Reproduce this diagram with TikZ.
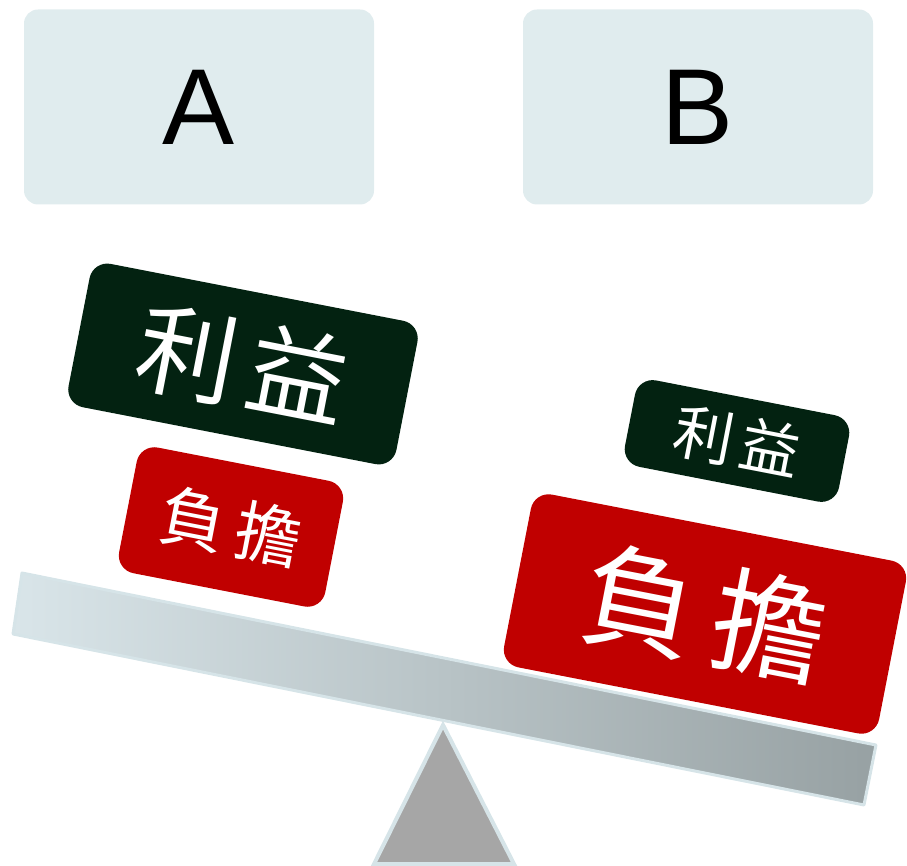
\documentclass[tikz,border=0pt]{standalone}
\usepackage{fontspec}
\setmainfont{Liberation Sans}
\newfontfamily\cjk{Noto Sans CJK TC}
\definecolor{boxbg}{HTML}{E0ECEE}
\definecolor{dgreen}{HTML}{032211}
\definecolor{dred}{HTML}{C00000}
\definecolor{beamL}{HTML}{D9E5E9}
\definecolor{beamR}{HTML}{97A1A3}
\definecolor{beamedge}{HTML}{D6E4E8}
\definecolor{fulcrum}{HTML}{A6A6A6}
\tikzset{
  labelbox/.style={fill=boxbg, rounded corners=14pt, minimum width=350pt, minimum height=195pt, inner sep=0pt, font=\fontsize{108}{108}\selectfont},
  weight/.style={rounded corners=18pt, inner sep=0pt, text=white, rotate=-11},
}
\begin{document}
\begin{tikzpicture}[x=1pt,y=-1pt]
\useasboundingbox (0,0) rectangle (907,866);
\node[labelbox] (A) at (199,107) {A};
\node[labelbox] (B) at (698,107) {B};
% fulcrum
\draw[fill=fulcrum, draw=beamedge, line width=4pt, line join=miter] (443,725) -- (374,864) -- (514,864) -- cycle;
\coordinate (apex) at (443,725);
% beam
\shade[left color=beamL, right color=beamR] (22,573) -- (876,745) -- (864,805) -- (13,634) -- cycle;
\draw[beamedge, line width=3pt, line join=round] (22,573) -- (876,745) -- (864,805) -- (13,634) -- cycle;
% weights
\node[weight, fill=dgreen, minimum width=334pt, minimum height=146pt, font=\cjk\fontsize{100}{100}\selectfont] (gL) at (243,364) {利\hspace{0.12em}益};
\node[weight, fill=dred, minimum width=210pt, minimum height=128pt, font=\cjk\fontsize{66}{66}\selectfont] (rL) at (231,527) {負\hspace{0.15em}擔};
\node[weight, fill=dgreen, minimum width=218pt, minimum height=88pt, font=\cjk\fontsize{60}{60}\selectfont] (gR) at (737,441) {利\hspace{0.12em}益};
\node[weight, fill=dred, minimum width=382pt, minimum height=176pt, font=\cjk\fontsize{114}{114}\selectfont] (rR) at (705,614) {負\hspace{0.15em}擔};
\end{tikzpicture}
\end{document}
